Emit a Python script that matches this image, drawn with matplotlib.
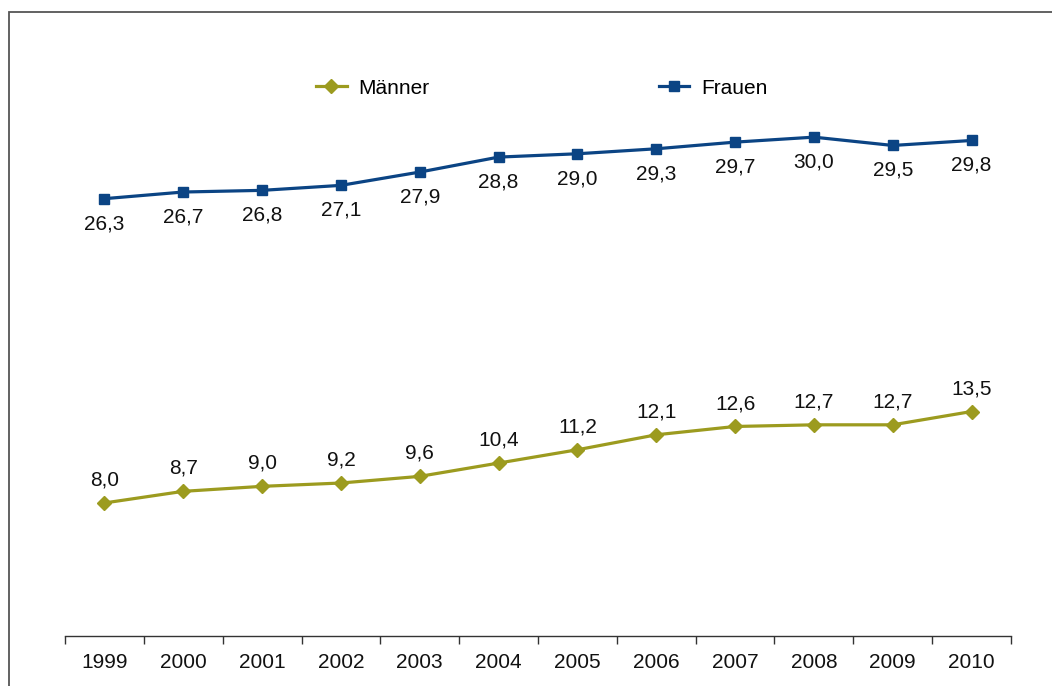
import matplotlib
matplotlib.use("Agg")
import matplotlib.pyplot as plt
from matplotlib.patches import Rectangle
import numpy as np

plt.rcParams['font.family'] = ['Liberation Sans', 'DejaVu Sans']

years = ["1999", "2000", "2001", "2002", "2003", "2004", "2005", "2006", "2007", "2008", "2009", "2010"]
maenner = [8.0, 8.7, 9.0, 9.2, 9.6, 10.4, 11.2, 12.1, 12.6, 12.7, 12.7, 13.5]
frauen = [26.3, 26.7, 26.8, 27.1, 27.9, 28.8, 29.0, 29.3, 29.7, 30.0, 29.5, 29.8]

c_m = '#9C9B1F'
c_f = '#0B4484'

W, H = 1052, 686
fig = plt.figure(figsize=(W / 100, H / 100), dpi=100)
ax = fig.add_axes([65 / W, 50 / H, 946 / W, 582 / H])

x = np.arange(len(years))
ax.plot(x, maenner, color=c_m, lw=2.3, marker='D', ms=7, label='Männer')
ax.plot(x, frauen, color=c_f, lw=2.3, marker='s', ms=6.5, label='Frauen')

def fmt(v):
    return f"{v:.1f}".replace('.', ',')

FS = 15
for xi, v in zip(x, maenner):
    ax.annotate(fmt(v), (xi, v), xytext=(0, 16.5), textcoords='offset points',
                ha='center', va='center', fontsize=FS, color='#111111')
for xi, v in zip(x, frauen):
    ax.annotate(fmt(v), (xi, v), xytext=(0, -18), textcoords='offset points',
                ha='center', va='center', fontsize=FS, color='#111111')

ax.set_xlim(-0.5, len(years) - 0.5)
ax.set_ylim(0, 35)
ax.set_yticks([])
for s in ['top', 'right', 'left']:
    ax.spines[s].set_visible(False)
ax.spines['bottom'].set_color('#333333')
ax.spines['bottom'].set_linewidth(1.0)

ax.set_xticks(np.arange(-0.5, len(years), 1.0))
ax.set_xticklabels([])
ax.tick_params(axis='x', which='major', length=6, width=1.0, color='#333333', direction='out')
ax.set_xticks(x, minor=True)
ax.set_xticklabels(years, minor=True, fontsize=FS, color='#111111')
ax.tick_params(axis='x', which='minor', length=0, pad=12)

leg = fig.legend(loc='center', bbox_to_anchor=(542 / W, 1 - 88 / H), ncol=2, frameon=False,
                 fontsize=FS, handlelength=1.45, handletextpad=0.58, columnspacing=11.0)

fig.patches.append(Rectangle((9.5 / W, -0.2), 2.0, 1.2 - 11.5 / H, transform=fig.transFigure,
                             fill=False, edgecolor='#555555', linewidth=1.3))

fig.savefig('out.png', dpi=100)
